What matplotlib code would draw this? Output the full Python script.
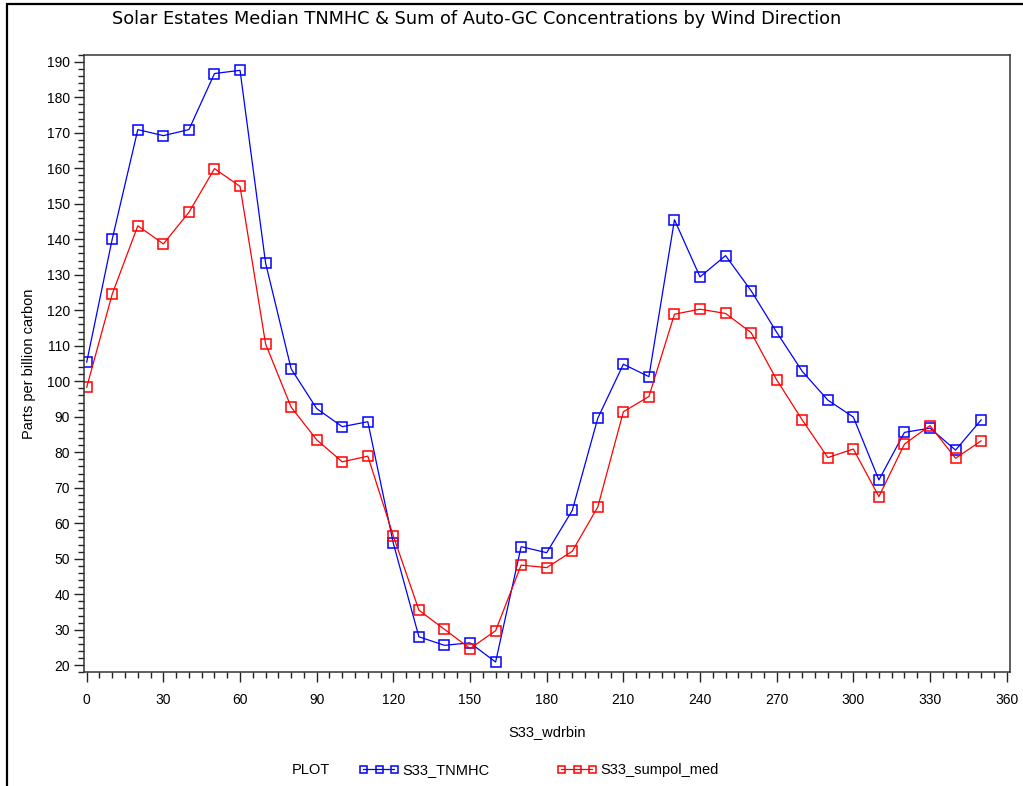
import matplotlib
matplotlib.use("Agg")
import matplotlib.pyplot as plt
from matplotlib.ticker import MultipleLocator
from matplotlib.patches import Rectangle

plt.rcParams['font.family'] = ['Liberation Sans', 'DejaVu Sans']

wdrbin = [0, 10, 20, 30, 40, 50, 60, 70, 80, 90, 100, 110, 120, 130, 140, 150, 160, 170,
          180, 190, 200, 210, 220, 230, 240, 250, 260, 270, 280, 290, 300, 310, 320, 330, 340, 350]
tnmhc = [105.4, 140.1, 170.9, 169.2, 170.9, 186.7, 187.6, 133.3, 103.5, 92.3, 87.2, 88.6,
         54.3, 28.0, 25.6, 26.3, 20.9, 53.4, 51.7, 63.6, 89.6, 104.8, 101.3, 145.5,
         129.4, 135.4, 125.5, 113.8, 102.8, 94.7, 89.9, 72.2, 85.6, 86.8, 80.6, 89.1]
sumpol_med = [98.3, 124.6, 143.8, 138.7, 147.6, 159.9, 154.9, 110.5, 92.7, 83.5, 77.3, 78.9,
              56.4, 35.5, 30.1, 24.7, 29.7, 48.2, 47.5, 52.1, 64.6, 91.4, 95.7, 118.9,
              120.3, 119.1, 113.7, 100.4, 89.1, 78.5, 80.9, 67.5, 82.3, 87.5, 78.3, 83.2]
series_names = ["S33_TNMHC", "S33_sumpol_med"]

fig = plt.figure(figsize=(10.23, 7.86), dpi=100)
ax = fig.add_axes([84/1023, 1 - 672.3/786, (1010 - 84)/1023, (672.3 - 54.5)/786])

l1, = ax.plot(wdrbin, tnmhc, color='#0000ff', lw=0.9, marker='s', ms=7.2,
              mfc='none', mec='#0000ff', mew=1.1, label=series_names[0])
l2, = ax.plot(wdrbin, sumpol_med, color='#ff0000', lw=0.9, marker='s', ms=7.2,
              mfc='none', mec='#ff0000', mew=1.1, label=series_names[1])

ax.set_xlim(-1.06, 361.3)
ax.set_ylim(18.0, 192.06)
ax.xaxis.set_major_locator(MultipleLocator(30))
ax.xaxis.set_minor_locator(MultipleLocator(5))
ax.yaxis.set_major_locator(MultipleLocator(10))
ax.yaxis.set_minor_locator(MultipleLocator(2))
ax.tick_params(which='both', direction='out', top=False, right=False, colors='#222222',
               labelcolor='black', labelsize=10, width=1)
ax.tick_params(which='major', length=7)
ax.tick_params(which='minor', length=4)
ax.tick_params(axis='x', which='major', pad=8)
ax.tick_params(axis='y', which='major', pad=3)
for s in ax.spines.values():
    s.set_linewidth(1.1)
    s.set_color('#333333')

ax.set_xlabel("S33_wdrbin", fontsize=10.5, labelpad=13)
ax.set_ylabel("Parts per billion carbon", fontsize=10.5, labelpad=8)

fig.text(477/1023, 1 - 19/786, "Solar Estates Median TNMHC & Sum of Auto-GC Concentrations by Wind Direction",
         ha='center', va='center', fontsize=12.8, family=['DejaVu Sans'])

fig.text(292/1023, 1 - 770/786, "PLOT", ha='left', va='center', fontsize=10.5)
fig.legend(handles=[l1, l2], loc='center left', bbox_to_anchor=(359/1023, 1 - 770/786),
           ncol=2, frameon=False, numpoints=3, handlelength=2.7, handletextpad=0.3,
           columnspacing=4.6, borderpad=0, borderaxespad=0, fontsize=10.5, markerscale=0.7)

fig.patches.append(Rectangle((7/1023, -0.1), 1.2, 1.1 - 4/786, transform=fig.transFigure,
                             fill=False, lw=1.6, ec='black', figure=fig))

fig.savefig("out.png", dpi=100)
